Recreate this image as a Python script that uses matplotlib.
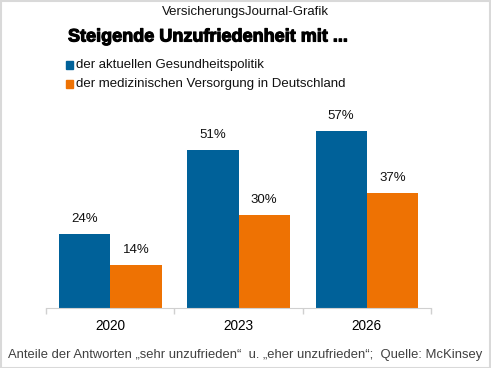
import matplotlib
matplotlib.use("Agg")
import matplotlib.pyplot as plt
from matplotlib.patches import Rectangle
import matplotlib.patheffects as pe
import numpy as np

plt.rcParams['font.family'] = ['Liberation Sans', 'DejaVu Sans']

years = ["2020", "2023", "2026"]
politik = [24, 51, 57]
versorgung = [14, 30, 37]
series_names = ["der aktuellen Gesundheitspolitik",
                "der medizinischen Versorgung in Deutschland"]
colors = ["#006199", "#EE7203"]

fig = plt.figure(figsize=(4.91, 3.68), dpi=100)
W, H = 491, 368
ax = fig.add_axes([46 / W, (H - 308) / H, 385 / W, 217 / H])

x = np.arange(len(years))
bw = 0.4
b1 = ax.bar(x - bw / 2, politik, bw, color=colors[0])
b2 = ax.bar(x + bw / 2, versorgung, bw, color=colors[1])
for bars, vals in ((b1, politik), (b2, versorgung)):
    for b, v in zip(bars, vals):
        ax.annotate(f"{v}%", (b.get_x() + b.get_width() / 2, v), xytext=(0, 6.5),
                    textcoords="offset points", ha="center", va="bottom",
                    fontsize=9.5, color="#111111")

ax.set_xlim(-0.5, 2.5)
ax.set_ylim(0, 70)
ax.set_xticks(x)
ax.set_xticklabels(years, fontsize=9.8)
ax.tick_params(axis='x', which='major', length=0, pad=8)
ax.set_xticks([-0.5, 0.5, 1.5, 2.5], minor=True)
ax.tick_params(axis='x', which='minor', length=4, color="#d0d0d0", width=1)
ax.set_yticks([])
for s in ["top", "right", "left"]:
    ax.spines[s].set_visible(False)
ax.spines["bottom"].set_color("#d0d0d0")

fig.text(245 / W, 1 - 12 / H, "VersicherungsJournal-Grafik", ha="center", va="center",
         fontsize=9.5, color="#111111")
fig.text(68 / W, 1 - 37 / H, "Steigende Unzufriedenheit mit ...", ha="left", va="center",
         fontsize=13, fontweight="bold", color="black",
         path_effects=[pe.withStroke(linewidth=0.8, foreground="black")])
for i, (name, c) in enumerate(zip(series_names, colors)):
    yc = 65 + 19 * i
    fig.patches.append(Rectangle((66 / W, 1 - (yc + 3.5) / H), 7 / W, 7 / H,
                                 transform=fig.transFigure, color=c))
    fig.text(76 / W, 1 - yc / H, name, ha="left", va="center", fontsize=9.5,
             color="#111111")

fig.text(245 / W, 1 - 355 / H,
         "Anteile der Antworten \u201esehr unzufrieden\u201c  u. \u201eeher unzufrieden\u201c;  Quelle: McKinsey",
         ha="center", va="center", fontsize=9.4, color="#404040")

fig.patches.append(Rectangle((0.5 / W, 0.5 / H), 1 - 1.5 / W, 1 - 1.5 / H,
                             transform=fig.transFigure, fill=False,
                             edgecolor="#d9d9d9", linewidth=1.5))

fig.savefig("out.png", dpi=100)
